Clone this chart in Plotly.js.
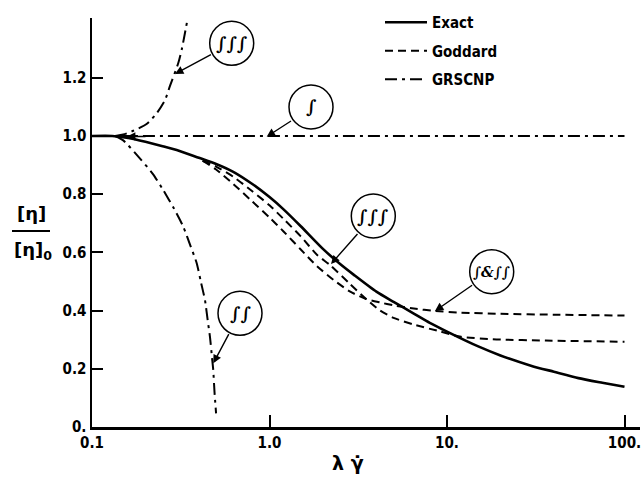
<!DOCTYPE html>
<html>
<head>
<meta charset="utf-8">
<script src="https://cdn.plot.ly/plotly-3.0.1.min.js"></script>
<style>html,body{margin:0;padding:0;background:#fff;}#chart{width:644px;height:478px;}</style>
</head>
<body>
<div id="chart"></div>
<script>
// Exact solution
const exactX = [0.1, 0.13, 0.16, 0.2, 0.25, 0.3, 0.4, 0.5, 0.625, 0.8, 1.0, 1.2, 1.5, 2.0, 2.5, 3.0, 4.0, 5.0, 6.5, 8.0, 10, 15, 20, 30, 40, 55, 75, 100];
const exactY = [1.0, 1.0, 0.993, 0.98, 0.965, 0.952, 0.925, 0.904, 0.877, 0.835, 0.79, 0.748, 0.69, 0.612, 0.56, 0.522, 0.465, 0.43, 0.39, 0.358, 0.328, 0.277, 0.246, 0.21, 0.19, 0.168, 0.152, 0.138];
// Goddard, ∫&∫∫ (upper plateau)
const goddardAX = [0.42, 0.5, 0.625, 0.8, 1.0, 1.2, 1.5, 1.85, 2.3, 2.85, 3.5, 4.2, 5, 6.5, 8.5, 12, 20, 40, 100];
const goddardAY = [0.915, 0.885, 0.835, 0.775, 0.72, 0.672, 0.61, 0.553, 0.505, 0.465, 0.44, 0.428, 0.418, 0.407, 0.399, 0.393, 0.389, 0.386, 0.383];
// Goddard, ∫∫∫ (lower plateau)
const goddardBX = [0.42, 0.5, 0.625, 0.8, 1.0, 1.2, 1.5, 1.85, 2.2, 2.8, 3.5, 4.2, 5, 6.5, 8.8, 12, 19, 36, 100];
const goddardBY = [0.915, 0.895, 0.86, 0.81, 0.762, 0.715, 0.655, 0.592, 0.556, 0.495, 0.44, 0.40, 0.375, 0.352, 0.331, 0.31, 0.301, 0.297, 0.293];
// GRSCNP ∫
const grs1X = [0.14, 100];
const grs1Y = [1.0, 1.0];
// GRSCNP ∫∫
const grs2X = [0.135, 0.15, 0.186, 0.22, 0.252, 0.29, 0.327, 0.36, 0.389, 0.41, 0.433, 0.45, 0.462, 0.475, 0.482, 0.49, 0.5];
const grs2Y = [1.0, 0.985, 0.923, 0.87, 0.814, 0.75, 0.688, 0.62, 0.563, 0.5, 0.436, 0.36, 0.31, 0.235, 0.196, 0.12, 0.047];
// GRSCNP ∫∫∫
const grs3X = [0.135, 0.15, 0.171, 0.203, 0.2315, 0.258, 0.275, 0.306, 0.32, 0.346];
const grs3Y = [1.0, 1.005, 1.018, 1.041, 1.078, 1.124, 1.172, 1.25, 1.296, 1.404];

const xTickVals = [0.1, 1, 10, 100];
const xTickText = ['0.1', '1.0', '10.', '100.'];
const yTickVals = [0, 0.2, 0.4, 0.6, 0.8, 1.0, 1.2];
const yTickText = ['0.', '0.2', '0.4', '0.6', '0.8', '1.0', '1.2'];

const labelFont = 'DejaVu Sans Condensed, DejaVu Sans, sans-serif';
const DASHDOT = '12px,5px,3px,5px';
const SM = {shape: 'spline', smoothing: 0.6};

const traces = [
  {x: exactX, y: exactY, name: 'Exact', mode: 'lines', line: Object.assign({color: '#000', width: 2.6}, SM), legendgroup: 'a'},
  {x: goddardAX, y: goddardAY, name: 'Goddard', mode: 'lines', line: Object.assign({color: '#000', width: 2, dash: '8px,5px'}, SM), legendgroup: 'b'},
  {x: goddardBX, y: goddardBY, name: 'Goddard', mode: 'lines', line: Object.assign({color: '#000', width: 2, dash: '8px,5px'}, SM), legendgroup: 'b', showlegend: false},
  {x: grs1X, y: grs1Y, name: 'GRSCNP', mode: 'lines', line: {color: '#000', width: 2, dash: DASHDOT}, legendgroup: 'c'},
  {x: grs2X, y: grs2Y, name: 'GRSCNP', mode: 'lines', line: Object.assign({color: '#000', width: 2, dash: DASHDOT}, SM), legendgroup: 'c', showlegend: false},
  {x: grs3X, y: grs3Y, name: 'GRSCNP', mode: 'lines', line: Object.assign({color: '#000', width: 2, dash: DASHDOT}, SM), legendgroup: 'c', showlegend: false}
];

// helpers: pixel -> paper
const L = 92, T = 18, W = 548, H = 409;
const px = v => (v - L) / W;
const py = v => (T + H - v) / H;

const circles = [
  {cx: 231.7, cy: 43.3, t: '∫∫∫', s: 18},
  {cx: 311, cy: 107, t: '∫', s: 18},
  {cx: 373.3, cy: 216, t: '∫∫∫', s: 18},
  {cx: 491.7, cy: 271.7, t: '∫&amp;∫∫', s: 14},
  {cx: 240, cy: 313.3, t: '∫∫', s: 18}
];
const arrows = [
  {tx: 175, ty: 74, ax: 37.4, ay: -20.2},
  {tx: 266.7, ty: 136.7, ax: 25.8, ay: -16.7},
  {tx: 127, ty: 136.5, ax: 20, ay: 0},
  {tx: 331, ty: 264, ax: 27.8, ay: -31.5},
  {tx: 435, ty: 311, ax: 38.6, ay: -26.8},
  {tx: 213.3, ty: 363.3, ax: 16.3, ay: -30.6}
];

const shapes = circles.map(c => ({
  type: 'circle', xref: 'paper', yref: 'paper', xsizemode: 'pixel', ysizemode: 'pixel',
  xanchor: px(c.cx), yanchor: py(c.cy), x0: -22, x1: 22, y0: -22, y1: 22,
  line: {color: '#000', width: 1.5}
}));
shapes.push({type: 'line', xref: 'paper', yref: 'paper', x0: px(12), x1: px(50), y0: py(231), y1: py(231), line: {color: '#000', width: 2}});

const annotations = circles.map(c => ({
  xref: 'paper', yref: 'paper', x: px(c.cx), y: py(c.cy), text: '<b><i>' + c.t + '</i></b>', showarrow: false,
  font: {family: 'DejaVu Serif, serif', size: c.s, color: '#000'}, xanchor: 'center', yanchor: 'middle'
})).concat(arrows.map(a => ({
  xref: 'paper', yref: 'paper', x: px(a.tx), y: py(a.ty), ax: a.ax, ay: a.ay, text: '', showarrow: true,
  arrowhead: 2, arrowsize: 1.2, arrowwidth: 1.4, arrowcolor: '#000'
}))).concat([
  {xref: 'paper', yref: 'paper', x: px(31), y: py(213), text: '<b>[η]</b>', showarrow: false,
   font: {family: 'DejaVu Sans, sans-serif', size: 18, color: '#000'}, xanchor: 'center', yanchor: 'middle'},
  {xref: 'paper', yref: 'paper', x: px(33), y: py(251), text: '<b>[η]<sub>0</sub></b>', showarrow: false,
   font: {family: 'DejaVu Sans, sans-serif', size: 18, color: '#000'}, xanchor: 'center', yanchor: 'middle'},
  {xref: 'paper', yref: 'paper', x: px(348), y: py(463), text: '<b>λ γ̇</b>', showarrow: false,
   font: {family: 'DejaVu Sans, sans-serif', size: 19, color: '#000'}, xanchor: 'center', yanchor: 'middle'}
]);

const layout = {
  width: 644, height: 478,
  margin: {l: L, r: 644 - L - W, t: T, b: 478 - T - H},
  paper_bgcolor: '#fff', plot_bgcolor: '#fff',
  font: {family: labelFont, color: '#000', size: 15},
  showlegend: true,
  legend: {
    x: px(380), y: py(6), xanchor: 'left', yanchor: 'top',
    bgcolor: 'rgba(0,0,0,0)', borderwidth: 0,
    traceorder: 'grouped', tracegroupgap: 6, itemwidth: 42,
    font: {family: labelFont, size: 15, color: '#000', weight: 'bold'}
  },
  xaxis: {
    type: 'log', range: [-1, -1 + W / 177.5],
    showgrid: false, zeroline: false, showline: true, linecolor: '#000', linewidth: 2.5,
    ticks: 'inside', ticklen: 12, tickwidth: 2, tickcolor: '#000',
    tickvals: xTickVals, ticktext: xTickText,
    tickfont: {family: labelFont, size: 15, color: '#000', weight: 'bold'}
  },
  yaxis: {
    range: [0, H / 291],
    showgrid: false, zeroline: false, showline: true, linecolor: '#000', linewidth: 2.5,
    ticks: 'inside', ticklen: 11, tickwidth: 2, tickcolor: '#000',
    tickvals: yTickVals, ticktext: yTickText,
    tickfont: {family: labelFont, size: 15, color: '#000', weight: 'bold'}
  },
  shapes: shapes,
  annotations: annotations
};

Plotly.newPlot('chart', traces, layout, {staticPlot: true, displayModeBar: false});
</script>
</body>
</html>
